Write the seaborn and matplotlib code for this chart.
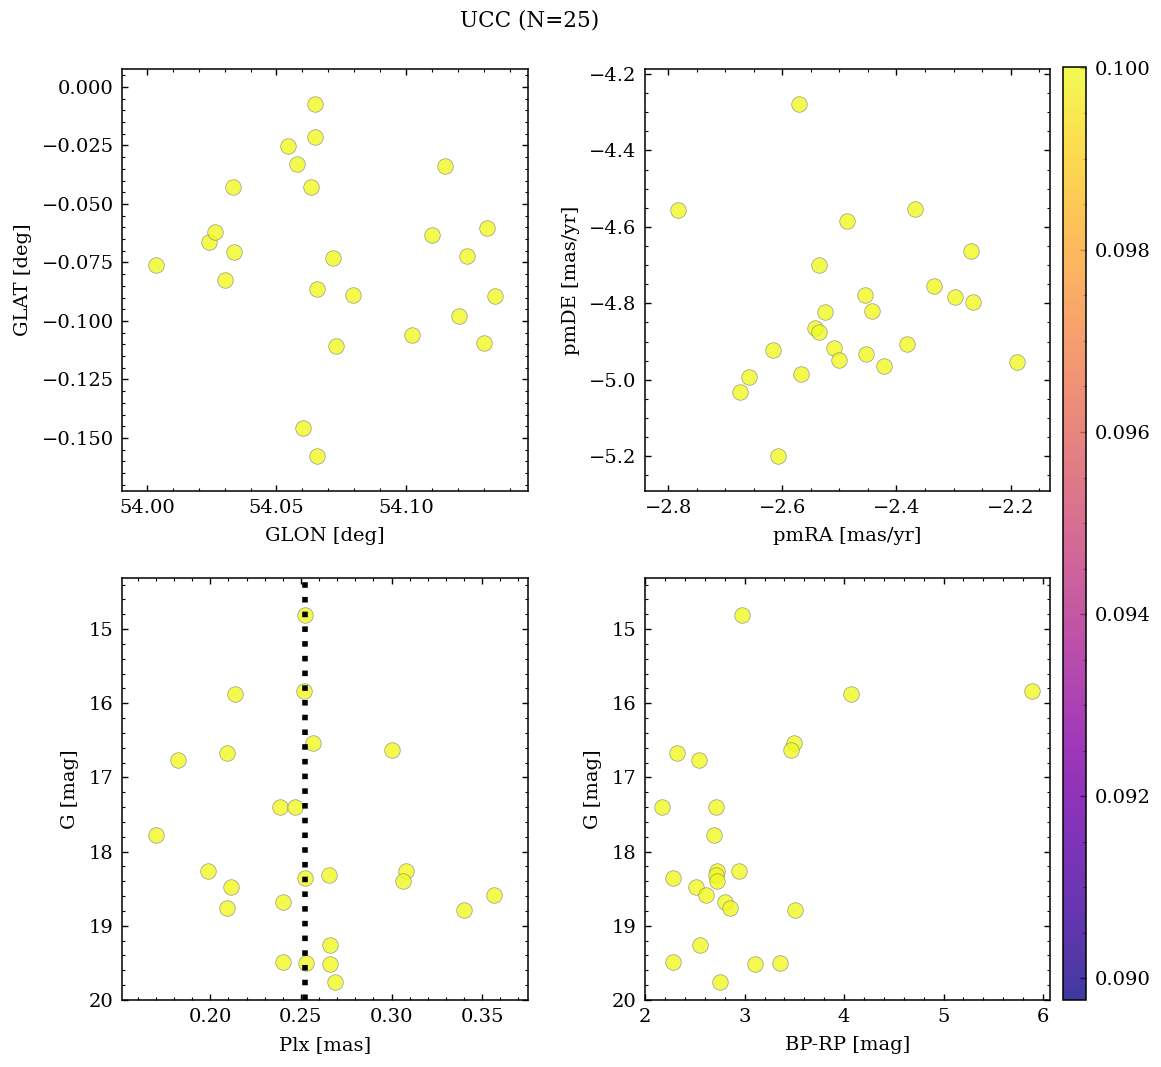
import matplotlib
matplotlib.use('Agg')
import matplotlib.pyplot as plt
import matplotlib.colors as mcolors
import matplotlib.cm as cm
import matplotlib.ticker as mticker
import seaborn as sns

# Data
glon = [54.0035, 54.0238, 54.0262, 54.0301, 54.0335, 54.0334, 54.0543, 54.0578,
        54.0634, 54.0648, 54.0649, 54.0658, 54.0717, 54.0729, 54.0794, 54.0602,
        54.0657, 54.1024, 54.1101, 54.1152, 54.1205, 54.1235, 54.1313, 54.1303,
        54.1342]
glat = [-0.0760, -0.0662, -0.0620, -0.0823, -0.0707, -0.0429, -0.0251, -0.0329,
        -0.0428, -0.0073, -0.0215, -0.0864, -0.0733, -0.1107, -0.0887, -0.1456,
        -0.1577, -0.1060, -0.0633, -0.0338, -0.0978, -0.0724, -0.0603, -0.1095,
        -0.0894]

pmra = [-2.5712, -2.7827, -2.3670, -2.4862, -2.2690, -2.5366, -2.3339, -2.4556,
        -2.2974, -2.2656, -2.5249, -2.4425, -2.5435, -2.5366, -2.6168, -2.5090,
        -2.5014, -2.4530, -2.4212, -2.3818, -2.1896, -2.5670, -2.6583, -2.6735,
        -2.6071]
pmde = [-4.2785, -4.5569, -4.5526, -4.5849, -4.6617, -4.6992, -4.7533, -4.7769,
        -4.7822, -4.7961, -4.8227, -4.8201, -4.8646, -4.8760, -4.9232, -4.9162,
        -4.9476, -4.9319, -4.9651, -4.9057, -4.9529, -4.9843, -4.9930, -5.0323,
        -5.1990]

gmag = [14.804, 15.838, 15.872, 16.540, 16.636, 16.673, 16.760, 17.397, 17.397,
        17.772, 18.264, 18.314, 18.356, 18.266, 18.401, 18.480, 18.590, 18.685,
        18.761, 18.786, 19.254, 19.494, 19.507, 19.519, 19.753]
plx = [0.2521, 0.2519, 0.2137, 0.2565, 0.3000, 0.2093, 0.1821, 0.2386, 0.2470,
       0.1699, 0.1985, 0.2654, 0.2521, 0.3082, 0.3063, 0.2116, 0.3563, 0.2403,
       0.2091, 0.3399, 0.2658, 0.2401, 0.2530, 0.2660, 0.2688]
bprp = [2.973, 5.885, 4.074, 3.494, 3.466, 2.322, 2.536, 2.171, 2.715, 2.691,
        2.719, 2.715, 2.282, 2.945, 2.719, 2.508, 2.612, 2.806, 2.854, 3.509,
        2.548, 2.282, 3.355, 3.100, 2.755]

prob = [0.1] * 25
plx_median = 0.2521
c_min, c_max = 0.08976, 0.10001

sns.set_style('ticks')
plt.rcParams['font.family'] = ['DejaVu Serif']
plt.rcParams['font.size'] = 14
plt.rcParams['text.color'] = 'black'
plt.rcParams['axes.labelcolor'] = 'black'
plt.rcParams['axes.edgecolor'] = 'black'
plt.rcParams['axes.linewidth'] = 1.1
for a in ('xtick', 'ytick'):
    plt.rcParams[a + '.direction'] = 'in'
    plt.rcParams[a + '.minor.visible'] = True
    plt.rcParams[a + '.major.size'] = 4.5
    plt.rcParams[a + '.minor.size'] = 2.3
    plt.rcParams[a + '.major.width'] = 1.0
    plt.rcParams[a + '.minor.width'] = 0.8
    plt.rcParams[a + '.major.pad'] = 6
    plt.rcParams[a + '.labelsize'] = 14
    plt.rcParams[a + '.color'] = 'black'
    plt.rcParams[a + '.labelcolor'] = 'black'
plt.rcParams['xtick.top'] = True
plt.rcParams['ytick.right'] = True

cmap = plt.get_cmap('plasma')
norm = mcolors.Normalize(vmin=c_min, vmax=c_max)
pt_color = cmap(norm(prob[0]))

W, H = 1161, 1067
fig = plt.figure(figsize=(W / 100, H / 100), dpi=100)

ax1 = fig.add_axes([122 / W, 1 - 491 / H, 406 / W, 422 / H])
ax2 = fig.add_axes([645 / W, 1 - 491 / H, 405 / W, 422 / H])
ax3 = fig.add_axes([122 / W, 1 - 1000 / H, 406 / W, 422 / H])
ax4 = fig.add_axes([645 / W, 1 - 1000 / H, 405 / W, 422 / H])
cax = fig.add_axes([1063 / W, 1 - 1000 / H, 23 / W, 933 / H])

kw = dict(color=pt_color, alpha=0.8, s=125, edgecolor='grey', linewidth=0.5)

sns.scatterplot(x=glon, y=glat, ax=ax1, **kw)
ax1.set_xlim(53.9904, 54.1471)
ax1.set_ylim(-0.1727, 0.0077)
ax1.xaxis.set_major_locator(mticker.MultipleLocator(0.05))
ax1.xaxis.set_minor_locator(mticker.AutoMinorLocator())
ax1.set_xlabel('GLON [deg]')
ax1.set_ylabel('GLAT [deg]')

sns.scatterplot(x=pmra, y=pmde, ax=ax2, **kw)
ax2.set_xlim(-2.8408, -2.1309)
ax2.set_ylim(-5.2908, -4.1869)
ax2.set_xlabel('pmRA [mas/yr]')
ax2.set_ylabel('pmDE [mas/yr]')

sns.scatterplot(x=plx, y=gmag, ax=ax3, **kw)
ax3.axvline(plx_median, color='black', ls=':', lw=4, zorder=3)
ax3.set_xlim(0.1513, 0.3753)
ax3.set_ylim(20.0, 14.312)
ax3.set_xlabel('Plx [mas]')
ax3.set_ylabel('G [mag]')

sns.scatterplot(x=bprp, y=gmag, ax=ax4, **kw)
ax4.set_xlim(1.998, 6.07)
ax4.set_ylim(20.0, 14.312)
ax4.set_xlabel('BP-RP [mag]')
ax4.set_ylabel('G [mag]')

for ax in (ax1, ax2, ax3, ax4):
    ax.xaxis.labelpad = 7
    ax.yaxis.labelpad = 7

sm = cm.ScalarMappable(norm=norm, cmap=cmap)
cb = fig.colorbar(sm, cax=cax, alpha=0.8)
cb.set_ticks([0.090, 0.092, 0.094, 0.096, 0.098, 0.100])
cb.ax.yaxis.set_major_formatter(mticker.FormatStrFormatter('%.3f'))
cb.ax.minorticks_on()
cb.ax.tick_params(which='both', direction='in', left=False, right=True)
cb.outline.set_linewidth(1.1)

fig.text(530 / W, 1 - 20 / H, 'UCC (N=25)', ha='center', va='center', fontsize=15.5)

fig.savefig('out.png', dpi=100)
